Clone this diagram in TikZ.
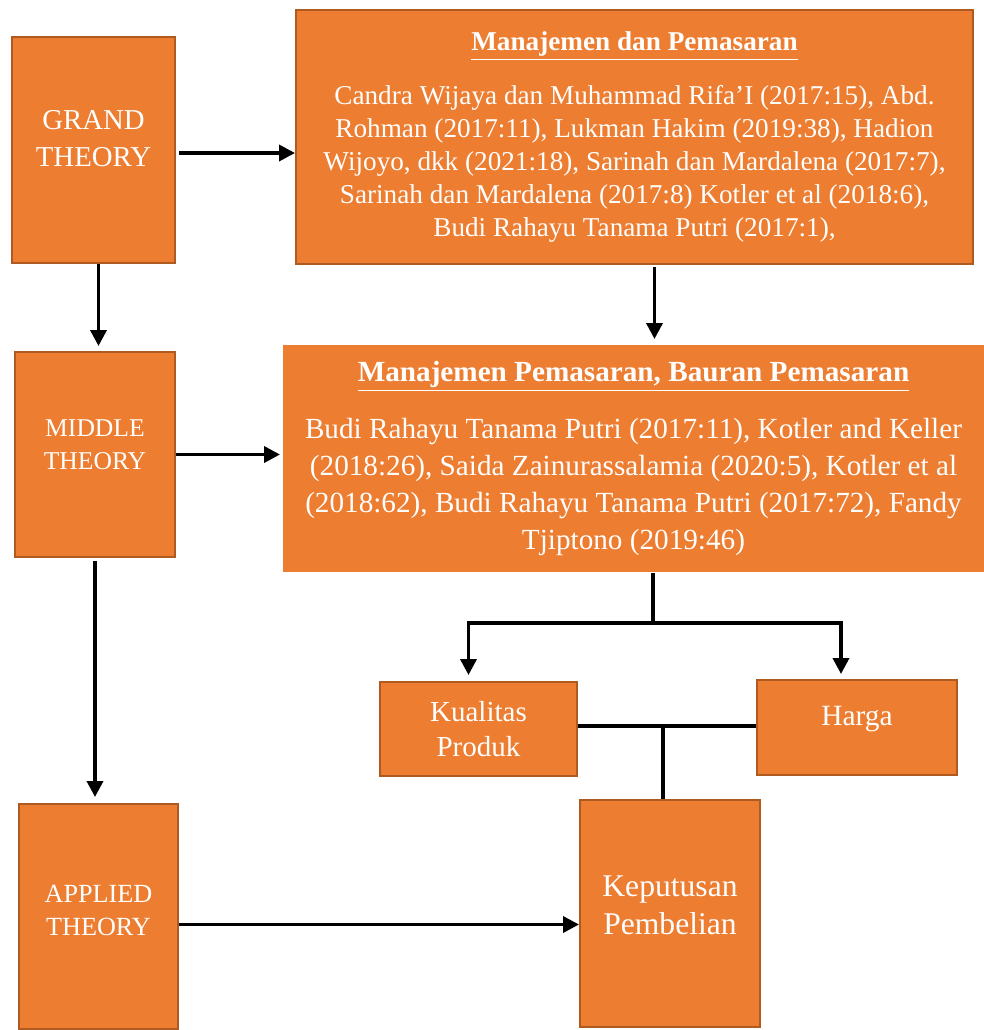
\documentclass[tikz,border=0pt]{standalone}
\usepackage{fontspec}
\setmainfont{Liberation Serif}
\usepackage{xcolor}
\usepackage{tikz}
\usetikzlibrary{arrows.meta,positioning,calc}
\definecolor{boxfill}{HTML}{ED7D31}
\definecolor{boxedge}{HTML}{AE5A21}
\tikzset{
	thick,
	>=latex,
	theorybox/.style = {
			rectangle,
			draw            = boxedge,
			line width      = 1pt,
			fill            = boxfill,
			text            = white,
			align           = center,
			inner sep       = 0pt,
		},
	refbox/.style = {
			theorybox,
			draw            = none,
		},
	arr/.style = {
			line width      = 1.8pt,
			-{Triangle[length=8pt,width=8pt]},
		},
	link/.style = {
			line width      = 1.8pt,
		}
}
\newcommand{\ultitle}[1]{\underline{\textbf{#1}}}

\begin{document}
\begin{tikzpicture}[x=0.5pt, y=-0.5pt]
						\useasboundingbox (0,0) rectangle (984,1030);

						\node[theorybox, minimum width=81.5pt, minimum height=113pt, font=\fontsize{14.4}{18.5}\selectfont, text depth=12pt] at (93.5,150) (grand) {GRAND\\THEORY};
						\node[theorybox, minimum width=80pt, minimum height=102.5pt, font=\fontsize{12.8}{16.5}\selectfont, text depth=10pt] at (95,454.5) (middle) {MIDDLE\\THEORY};
						\node[theorybox, minimum width=79.5pt, minimum height=112.5pt, font=\fontsize{13.1}{16.5}\selectfont, text depth=6pt] at (98.5,916.5) (applied) {APPLIED\\THEORY};

						\node[theorybox, minimum width=338.5pt, minimum height=127pt, font=\fontsize{13.6}{16.5}\selectfont] at (634.5,137) (mandp) {\ultitle{Manajemen dan Pemasaran}\\[10.5pt]
							Candra Wijaya dan Muhammad Rifa’I (2017:15), Abd.\\
							Rohman (2017:11), Lukman Hakim (2019:38), Hadion\\
							Wijoyo, dkk (2021:18), Sarinah dan Mardalena (2017:7),\\
							Sarinah dan Mardalena (2017:8) Kotler et al (2018:6),\\
							Budi Rahayu Tanama Putri (2017:1),};

						\node[refbox, minimum width=350.5pt, minimum height=113.5pt, font=\fontsize{14.6}{18.5}\selectfont] at (633.5,458.5) (manpem) {\ultitle{Manajemen Pemasaran, Bauran Pemasaran}\\[10pt]
							Budi Rahayu Tanama Putri (2017:11), Kotler and Keller\\
							(2018:26), Saida Zainurassalamia (2020:5), Kotler et al\\
							(2018:62), Budi Rahayu Tanama Putri (2017:72), Fandy\\
							Tjiptono (2019:46)};

						\node[theorybox, minimum width=98.5pt, minimum height=47pt, font=\fontsize{14.5}{17.5}\selectfont] at (478.5,729) (kualitas) {Kualitas\\Produk};
						\node[theorybox, minimum width=100pt, minimum height=47.5pt, font=\fontsize{14.7}{17.5}\selectfont, text depth=12pt] at (857,727.5) (harga) {Harga};
						\node[theorybox, minimum width=90pt, minimum height=113.5pt, font=\fontsize{15.8}{19}\selectfont, text depth=8pt] at (670,913.5) (keputusan) {Keputusan\\Pembelian};

						\coordinate (split) at (653,623);
						\coordinate (join) at (663,726);

						\draw[arr, shorten <=1.5pt] ([yshift=-1.5pt]grand.east) -- ([yshift=-1.5pt]grand.east -| mandp.west);
						\draw[arr, shorten >=2.5pt] ([xshift=2.5pt]grand.south) -- ([xshift=2.5pt]grand.south |- middle.north);
						\draw[arr, shorten >=1pt] (middle.east) -- (middle.east -| manpem.west);
						\draw[arr, shorten <=1pt, shorten >=2.5pt] ([xshift=10pt]mandp.south) -- ([xshift=10pt]mandp.south |- manpem.north);
						\draw[arr, shorten <=1.5pt, shorten >=3pt] (middle.south) -- (middle.south |- applied.north);
						\draw[arr] ([yshift=-4pt]applied.east) -- ([yshift=-4pt]applied.east -| keputusan.west);

						\draw[link] (manpem.south -| split) -- (split);
						\draw[arr, shorten >=3pt] (split) -| ([xshift=-5pt]kualitas.north);
						\draw[arr, shorten >=2.5pt] (split) -| ([xshift=-8pt]harga.north);

						\draw[link] (kualitas.east |- join) -- (harga.west |- join);
						\draw[link] (join) -- (join |- keputusan.north);
					\end{tikzpicture}
\end{document}
